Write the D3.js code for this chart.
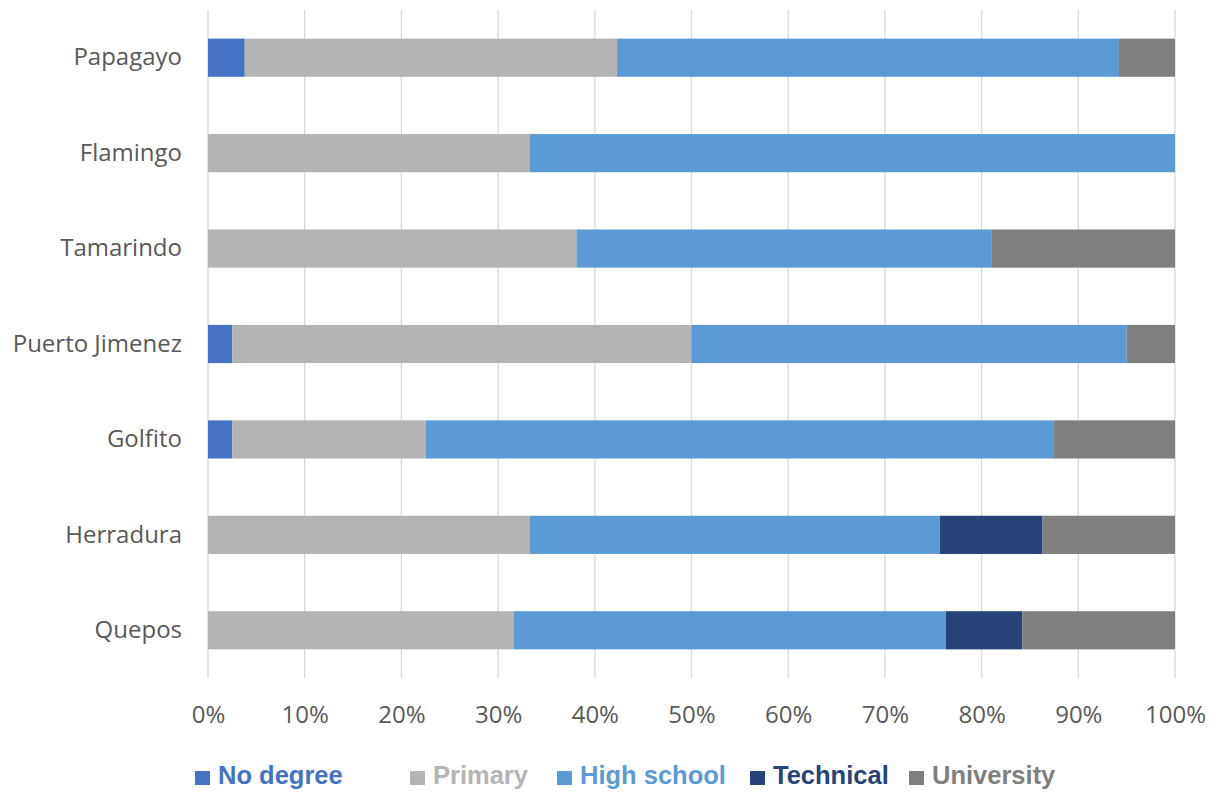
<!DOCTYPE html>
<html>
<head>
<meta charset="utf-8">
<script src="https://cdn.jsdelivr.net/npm/d3@7/dist/d3.min.js"></script>
<style>
  html, body { margin: 0; padding: 0; background: #fff; }
  svg { display: block; }
</style>
</head>
<body>
<svg id="chart" width="1214" height="792"></svg>
<script>
// Education level of respondents by community (share of each community, %)
const communities = ["Papagayo", "Flamingo", "Tamarindo", "Puerto Jimenez", "Golfito", "Herradura", "Quepos"];
const levels = ["No degree", "Primary", "High school", "Technical", "University"];
const noDegree   = [3.8, 0,    0,    2.5,  2.5,  0,    0];
const primary    = [38.5, 33.3, 38.1, 47.5, 20.0, 33.3, 31.6];
const highSchool = [51.9, 66.7, 42.9, 45.0, 65.0, 42.4, 44.7];
const technical  = [0,    0,    0,    0,    0,    10.6, 7.9];
const university = [5.8,  0,    19.0, 5.0,  12.5, 13.7, 15.8];
const tickValues = [0, 10, 20, 30, 40, 50, 60, 70, 80, 90, 100];
const colors = ["#4472C4", "#B4B4B4", "#5B9BD5", "#264478", "#7F7F7F"];

const series = [noDegree, primary, highSchool, technical, university];
const rows = communities.map((c, i) => {
  const r = { community: c };
  levels.forEach((l, j) => { r[l] = series[j][i]; });
  return r;
});

const svg = d3.select("#chart");
const margin = { left: 208, right: 39, top: 10, bottom: 114 };
const W = 1214, H = 792;

const x = d3.scaleLinear().domain([0, 100]).range([margin.left, W - margin.right]);
const y = d3.scaleBand().domain(communities).range([margin.top, H - margin.bottom]).paddingInner(0.6).paddingOuter(0.3);

// vertical gridlines
svg.append("g")
  .selectAll("line")
  .data(tickValues)
  .join("line")
  .attr("x1", d => x(d)).attr("x2", d => x(d))
  .attr("y1", margin.top).attr("y2", H - margin.bottom)
  .attr("stroke", "#d9d9d9").attr("stroke-width", 1.3);

// stacked bars
const stacked = d3.stack().keys(levels)(rows);
svg.append("g")
  .selectAll("g")
  .data(stacked)
  .join("g")
  .attr("fill", (d, i) => colors[i])
  .selectAll("rect")
  .data(d => d)
  .join("rect")
  .attr("x", d => x(d[0]))
  .attr("width", d => Math.max(0, x(d[1]) - x(d[0])))
  .attr("y", d => y(d.data.community))
  .attr("height", y.bandwidth());

const labelFont = "'Open Sans', sans-serif";

// category axis
const yAxis = svg.append("g")
  .attr("transform", `translate(${margin.left - 26},0)`)
  .call(d3.axisLeft(y).tickSize(0).tickPadding(0));
yAxis.select(".domain").remove();
yAxis.selectAll("text")
  .attr("fill", "#595959")
  .style("font-family", labelFont)
  .style("font-size", "24px");

// percentage axis
const xAxis = svg.append("g")
  .attr("transform", `translate(0,${H - margin.bottom})`)
  .call(d3.axisBottom(x).tickValues(tickValues).tickFormat(d => d + "%").tickSize(0).tickPadding(27.5));
xAxis.select(".domain").remove();
xAxis.selectAll("text")
  .attr("fill", "#595959")
  .style("font-family", labelFont)
  .style("font-size", "24px");

// legend
const legendX = [195, 410, 557, 750, 909];
const legend = svg.append("g")
  .selectAll("g")
  .data(levels)
  .join("g")
  .attr("transform", (d, i) => `translate(${legendX[i]},0)`);
legend.append("rect")
  .attr("x", 0).attr("y", 771).attr("width", 15).attr("height", 14)
  .attr("fill", (d, i) => colors[i]);
legend.append("text")
  .attr("transform", "translate(23,784)")
  .attr("fill", (d, i) => colors[i])
  .style("font-family", "'Liberation Sans', Arial, sans-serif")
  .style("font-weight", "bold")
  .style("font-size", "25.5px")
  .text(d => d);
</script>
</body>
</html>
